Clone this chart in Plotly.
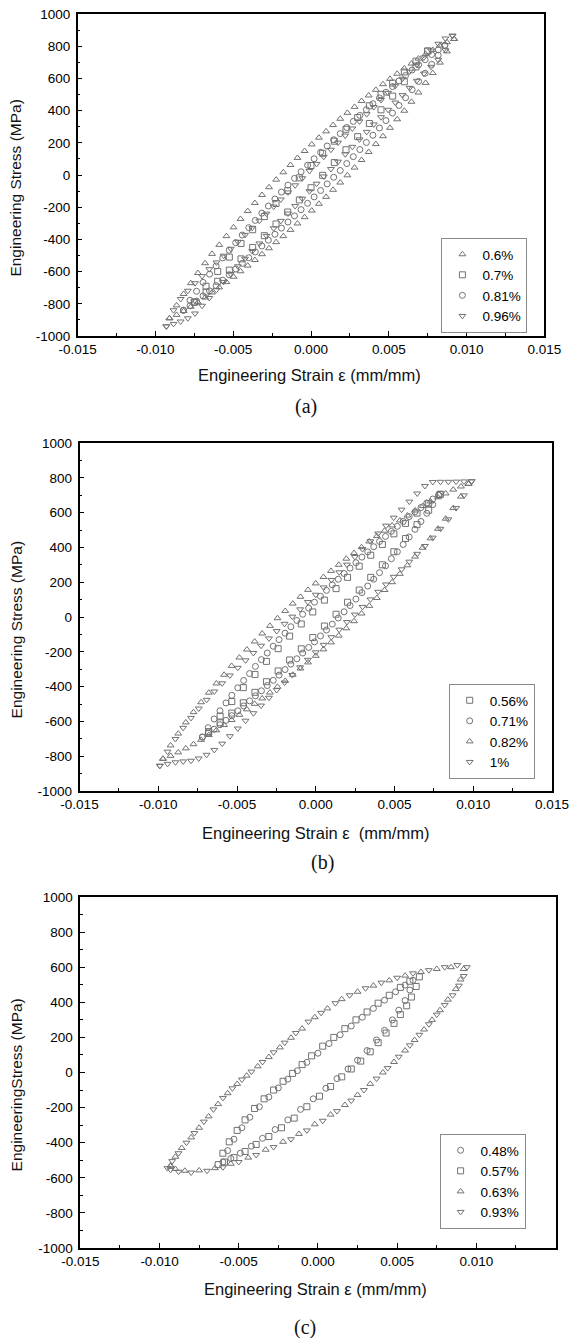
import plotly.graph_objects as go

# ---------------- data ----------------
x_tick_vals = [-0.015, -0.010, -0.005, 0.0, 0.005, 0.010, 0.015]
x_tick_text = ["-0.015", "-0.010", "-0.005", "0.000", "0.005", "0.010", "0.015"]
x_minor_vals = [-0.0125, -0.0075, -0.0025, 0.0025, 0.0075, 0.0125]
y_tick_vals = [-1000, -800, -600, -400, -200, 0, 200, 400, 600, 800, 1000]
y_tick_text = ["-1000", "-800", "-600", "-400", "-200", "0", "200", "400", "600", "800", "1000"]
y_minor_vals = [-900, -700, -500, -300, -100, 100, 300, 500, 700, 900]

# Panel (a)
a1_label = "0.6%"
a1_strain = [-0.0091, -0.00864, -0.00819, -0.00773, -0.00727, -0.00681, -0.00636, -0.0059, -0.00544, -0.00498,
             -0.00453, -0.00407, -0.00361, -0.00315, -0.0027, -0.00224, -0.00178, -0.00132, -0.00087, -0.00041,
             0.00005, 0.00051, 0.00097, 0.00142, 0.00188, 0.00234, 0.0028, 0.00325, 0.00371, 0.00417,
             0.00463, 0.00508, 0.00554, 0.006, 0.00646, 0.00691, 0.00737, 0.00783, 0.00829, 0.00874, 0.0092]
a1_upper = [-890, -810, -739, -672, -609, -548, -490, -434, -380, -325, -273, -224, -174, -124, -76, -29, 17,
            62, 106, 149, 190, 232, 271, 310, 349, 386, 423, 460, 494, 529, 564, 597, 629, 662, 692, 723, 751,
            777, 804, 825, 845]
a1_lower = [-890, -869, -845, -818, -791, -761, -730, -698, -665, -632, -598, -563, -528, -492, -455, -417,
            -380, -341, -301, -262, -221, -179, -136, -92, -47, -2, 46, 93, 143, 192, 241, 293, 346, 399, 455,
            512, 572, 633, 698, 768, 845]

a2_label = "0.7%"
a2_strain = [-0.0075, -0.00675, -0.006, -0.00525, -0.0045, -0.00375, -0.003, -0.00225, -0.0015, -0.00075, 0.0,
             0.00075, 0.0015, 0.00225, 0.003, 0.00375, 0.0045, 0.00525, 0.006, 0.00675, 0.0075]
a2_upper = [-790, -691, -599, -510, -425, -340, -258, -177, -97, -18, 59, 135, 210, 284, 357, 430, 501, 571,
            640, 707, 770]
a2_lower = [-790, -727, -660, -591, -521, -450, -377, -304, -230, -155, -79, -2, 77, 157, 238, 320, 405, 490,
            579, 671, 770]

a3_label = "0.81%"
a3_strain = [-0.0082, -0.00778, -0.00736, -0.00694, -0.00652, -0.0061, -0.00568, -0.00526, -0.00484, -0.00442,
             -0.004, -0.00358, -0.00316, -0.00274, -0.00232, -0.0019, -0.00148, -0.00106, -0.00064, -0.00022,
             0.0002, 0.00062, 0.00104, 0.00146, 0.00188, 0.0023, 0.00272, 0.00314, 0.00356, 0.00398, 0.0044,
             0.00482, 0.00524, 0.00566, 0.00608, 0.0065, 0.00692, 0.00734, 0.00776, 0.00818, 0.0086]
a3_upper = [-840, -778, -722, -667, -616, -565, -515, -467, -420, -373, -327, -282, -237, -193, -149, -106,
            -63, -21, 20, 61, 101, 141, 180, 219, 257, 295, 333, 370, 406, 443, 479, 514, 549, 584, 618, 652,
            685, 716, 748, 777, 805]
a3_lower = [-840, -812, -783, -751, -720, -687, -653, -619, -584, -549, -514, -478, -441, -405, -368, -330,
            -292, -254, -215, -176, -136, -96, -55, -14, 28, 71, 114, 158, 202, 247, 292, 338, 385, 432, 480,
            530, 581, 632, 687, 744, 805]

a4_label = "0.96%"
a4_strain = [-0.0093, -0.00884, -0.00838, -0.00792, -0.00746, -0.007, -0.00654, -0.00608, -0.00562, -0.00516,
             -0.0047, -0.00424, -0.00378, -0.00332, -0.00286, -0.0024, -0.00194, -0.00148, -0.00102, -0.00056,
             -0.0001, 0.00036, 0.00082, 0.00128, 0.00174, 0.0022, 0.00266, 0.00312, 0.00358, 0.00404, 0.0045,
             0.00496, 0.00542, 0.00588, 0.00634, 0.0068, 0.00726, 0.00772, 0.00818, 0.00864, 0.0091]
a4_upper = [-940, -840, -770, -719, -672, -628, -585, -543, -501, -458, -415, -372, -328, -284, -240, -196,
            -152, -108, -64, -20, 25, 69, 113, 157, 201, 245, 289, 333, 378, 422, 466, 510, 554, 598, 642, 686,
            730, 773, 815, 848, 865]
a4_lower = [-940, -925, -910, -890, -860, -812, -764, -714, -664, -615, -567, -520, -473, -425, -378, -331,
            -285, -239, -193, -147, -101, -54, -9, 37, 83, 129, 175, 221, 268, 314, 359, 405, 450, 496, 541,
            585, 630, 672, 715, 775, 865]

# Panel (b)
b1_label = "0.56%"
b1_strain = [-0.0068, -0.00607, -0.00533, -0.0046, -0.00386, -0.00313, -0.00239, -0.00166, -0.00092, -0.00019,
             0.00055, 0.00129, 0.00202, 0.00276, 0.00349, 0.00423, 0.00496, 0.0057, 0.00643, 0.00717, 0.0079]
b1_upper = [-660, -569, -486, -406, -330, -255, -182, -110, -40, 29, 97, 163, 228, 292, 355, 417, 478, 538,
            597, 653, 705]
b1_lower = [-660, -608, -552, -493, -433, -372, -310, -247, -183, -118, -52, 16, 85, 155, 228, 300, 375, 451,
            531, 614, 705]

b2_label = "0.71%"
b2_strain = [-0.0072, -0.00683, -0.00645, -0.00608, -0.0057, -0.00533, -0.00495, -0.00458, -0.0042, -0.00383,
             -0.00345, -0.00308, -0.0027, -0.00233, -0.00195, -0.00158, -0.0012, -0.00083, -0.00045, -0.00008,
             0.0003, 0.00068, 0.00105, 0.00143, 0.0018, 0.00218, 0.00255, 0.00293, 0.0033, 0.00368, 0.00405,
             0.00443, 0.0048, 0.00518, 0.00555, 0.00593, 0.0063, 0.00668, 0.00705, 0.00743, 0.0078]
b2_upper = [-690, -636, -586, -539, -494, -450, -407, -365, -325, -284, -245, -207, -168, -130, -93, -56, -20,
            16, 51, 85, 119, 153, 185, 217, 250, 281, 312, 344, 374, 404, 434, 463, 492, 521, 549, 577, 604,
            629, 655, 678, 700]
b2_lower = [-690, -668, -645, -619, -594, -567, -539, -511, -482, -453, -424, -394, -364, -334, -302, -271,
            -240, -207, -175, -143, -109, -75, -41, -6, 30, 66, 103, 140, 178, 217, 255, 294, 335, 375, 417,
            460, 504, 549, 596, 646, 700]

b3_label = "0.82%"
b3_strain = [-0.0097, -0.00922, -0.00873, -0.00825, -0.00776, -0.00728, -0.00679, -0.00631, -0.00582, -0.00534,
             -0.00485, -0.00437, -0.00388, -0.0034, -0.00291, -0.00243, -0.00194, -0.00146, -0.00097, -0.00049,
             0.0, 0.00049, 0.00097, 0.00146, 0.00194, 0.00243, 0.00291, 0.0034, 0.00388, 0.00437, 0.00485,
             0.00534, 0.00582, 0.00631, 0.00679, 0.00728, 0.00776, 0.00825, 0.00873, 0.00922, 0.0097]
b3_upper = [-815, -738, -670, -606, -547, -490, -435, -382, -332, -281, -233, -187, -141, -95, -51, -7, 35,
            77, 116, 156, 193, 230, 265, 300, 335, 368, 401, 434, 465, 496, 526, 555, 583, 612, 638, 664, 688,
            710, 732, 750, 765]
b3_lower = [-815, -798, -778, -755, -731, -706, -678, -651, -621, -592, -562, -531, -499, -468, -434, -401,
            -367, -332, -296, -261, -223, -186, -146, -107, -65, -24, 20, 64, 109, 155, 200, 248, 297, 347, 398,
            452, 507, 565, 626, 692, 765]

b4_label = "1%"
b4_strain = [-0.0099, -0.00941, -0.00891, -0.00842, -0.00792, -0.00743, -0.00693, -0.00644, -0.00594, -0.00545,
             -0.00495, -0.00446, -0.00396, -0.00347, -0.00297, -0.00248, -0.00198, -0.00149, -0.00099, -0.0005,
             0.0, 0.0005, 0.00099, 0.00149, 0.00198, 0.00248, 0.00297, 0.00347, 0.00396, 0.00446, 0.00495,
             0.00545, 0.00594, 0.00644, 0.00693, 0.00743, 0.00792, 0.00842, 0.00891, 0.00941, 0.0099]
b4_upper = [-855, -774, -701, -637, -580, -526, -476, -428, -381, -336, -292, -249, -207, -165, -123, -81, -39,
            2, 44, 86, 128, 170, 213, 257, 301, 345, 390, 435, 480, 525, 571, 617, 663, 710, 753, 776, 777, 777,
            778, 779, 780]
b4_lower = [-855, -844, -835, -830, -826, -813, -792, -764, -728, -685, -641, -596, -553, -509, -464, -420,
            -377, -333, -289, -246, -203, -160, -116, -73, -29, 14, 58, 101, 145, 187, 231, 274, 318, 363, 408,
            456, 507, 561, 626, 699, 780]

# Panel (c)
c1_label = "0.48%"
c1_up_strain = [-0.006, -0.0057, -0.0053, -0.0048, -0.0043, -0.0037, -0.0031, -0.0025, -0.0019, -0.0013,
                -0.0007, 0.0, 0.0007, 0.0014, 0.0021, 0.0028, 0.0035, 0.0042, 0.0049, 0.0055, 0.006]
c1_up_stress = [-510, -445, -380, -315, -255, -195, -140, -88, -38, 10, 58, 110, 165, 215, 265, 315, 365, 412,
                460, 498, 525]
c1_dn_strain = [0.0058, 0.0055, 0.0051, 0.0047, 0.0042, 0.0037, 0.0031, 0.0025, 0.0019, 0.0012, 0.0005,
                -0.0003, -0.0011, -0.0019, -0.0027, -0.0035, -0.0042, -0.0049, -0.0055]
c1_dn_stress = [470, 410, 355, 300, 240, 185, 125, 70, 20, -35, -90, -150, -210, -270, -325, -375, -420,
                -460, -490]

c2_label = "0.57%"
c2_up_strain = [-0.0063, -0.006, -0.0056, -0.0051, -0.0046, -0.004, -0.0034, -0.0028, -0.0022, -0.0016, -0.001,
                -0.0004, 0.0003, 0.001, 0.0017, 0.0024, 0.0031, 0.0038, 0.0045, 0.0052, 0.0058, 0.0064]
c2_up_stress = [-525, -460, -395, -330, -270, -205, -150, -100, -50, -5, 45, 95, 150, 200, 250, 300, 345, 395,
                440, 485, 520, 545]
c2_dn_strain = [0.0062, 0.0059, 0.0056, 0.0052, 0.0048, 0.0043, 0.0038, 0.0033, 0.0027, 0.0021, 0.0015, 0.0008,
                0.0001, -0.0007, -0.0015, -0.0023, -0.0031, -0.0039, -0.0046, -0.0053, -0.0059]
c2_dn_stress = [490, 430, 380, 330, 280, 225, 170, 118, 65, 20, -25, -80, -135, -195, -260, -315, -365, -410,
                -450, -485, -510]

c3_label = "0.63%"
c3_up_strain = [-0.0093, -0.009, -0.0086, -0.008, -0.0075, -0.0069, -0.0063, -0.0057, -0.0051, -0.0045,
                -0.0038, -0.0031, -0.0024, -0.0017, -0.001, -0.0002, 0.0006, 0.0015, 0.0025, 0.0035, 0.0045,
                0.0055, 0.0065, 0.0075, 0.0084]
c3_up_stress = [-530, -480, -430, -370, -315, -250, -180, -118, -65, -18, 35, 88, 143, 198, 250, 315, 365, 418,
                460, 495, 525, 552, 573, 590, 600]
c3_dn_strain = [0.0092, 0.009, 0.0087, 0.0082, 0.0077, 0.0072, 0.0067, 0.0061, 0.0055, 0.0048, 0.0041, 0.0033,
                0.0025, 0.0017, 0.0008, -0.0002, -0.0012, -0.0022, -0.0033, -0.0044, -0.0055, -0.0065, -0.0075,
                -0.0084, -0.009, -0.0093]
c3_dn_stress = [590, 530, 475, 415, 355, 300, 245, 185, 125, 60, 0, -65, -128, -185, -240, -295, -350, -395,
                -440, -485, -520, -545, -558, -560, -550, -535]

c4_label = "0.93%"
c4_up_strain = [-0.0095, -0.0092, -0.0088, -0.0083, -0.0078, -0.0072, -0.0066, -0.006, -0.0054, -0.0048,
                -0.0042, -0.0035, -0.0028, -0.0021, -0.0014, -0.0006, 0.0002, 0.0011, 0.002, 0.003, 0.004,
                0.005, 0.006, 0.007, 0.008, 0.0088]
c4_up_stress = [-545, -505, -460, -400, -345, -280, -210, -145, -90, -40, 5, 60, 115, 170, 225, 290, 340, 395,
                440, 480, 512, 540, 565, 583, 600, 612]
c4_dn_strain = [0.0094, 0.0092, 0.0089, 0.0085, 0.008, 0.0075, 0.007, 0.0064, 0.0058, 0.0051, 0.0044, 0.0037,
                0.0029, 0.0021, 0.0012, 0.0003, -0.0007, -0.0017, -0.0028, -0.0039, -0.005, -0.006, -0.007,
                -0.008, -0.0088, -0.0093]
c4_dn_stress = [600, 550, 495, 440, 385, 330, 275, 215, 155, 90, 25, -35, -100, -160, -220, -275, -330, -380,
                -425, -470, -510, -540, -560, -570, -565, -555]

# ---------------- figure ----------------
W, H = 572, 1338
FONT = "Liberation Sans, Arial, Helvetica, sans-serif"
MARK = "#727272"

fig = go.Figure()

def add_loop(xs, ys, symbol, name, panel):
    fig.add_trace(go.Scatter(
        x=xs, y=ys, mode="markers", name=name,
        xaxis="x" if panel == 1 else f"x{panel}",
        yaxis="y" if panel == 1 else f"y{panel}",
        legend="legend" if panel == 1 else f"legend{panel}",
        marker=dict(symbol=symbol, size=6, color=MARK, line=dict(width=1, color=MARK)),
    ))

def shared(strain, upper, lower):
    return strain + strain[::-1], upper + lower[::-1]

# panel (a)
x, y = shared(a1_strain, a1_upper, a1_lower); add_loop(x, y, "triangle-up-open", a1_label, 1)
x, y = shared(a2_strain, a2_upper, a2_lower); add_loop(x, y, "square-open", a2_label, 1)
x, y = shared(a3_strain, a3_upper, a3_lower); add_loop(x, y, "circle-open", a3_label, 1)
x, y = shared(a4_strain, a4_upper, a4_lower); add_loop(x, y, "triangle-down-open", a4_label, 1)
# panel (b)
x, y = shared(b1_strain, b1_upper, b1_lower); add_loop(x, y, "square-open", b1_label, 2)
x, y = shared(b2_strain, b2_upper, b2_lower); add_loop(x, y, "circle-open", b2_label, 2)
x, y = shared(b3_strain, b3_upper, b3_lower); add_loop(x, y, "triangle-up-open", b3_label, 2)
x, y = shared(b4_strain, b4_upper, b4_lower); add_loop(x, y, "triangle-down-open", b4_label, 2)
# panel (c)
add_loop(c1_up_strain + c1_dn_strain, c1_up_stress + c1_dn_stress, "circle-open", c1_label, 3)
add_loop(c2_up_strain + c2_dn_strain, c2_up_stress + c2_dn_stress, "square-open", c2_label, 3)
add_loop(c3_up_strain + c3_dn_strain, c3_up_stress + c3_dn_stress, "triangle-up-open", c3_label, 3)
add_loop(c4_up_strain + c4_dn_strain, c4_up_stress + c4_dn_stress, "triangle-down-open", c4_label, 3)

# plot-area pixel boxes (left, right, top, bottom)
boxes = [(77.7, 544.3, 14, 336), (79.5, 552, 443, 791), (80.3, 555.6, 897, 1248)]

def xaxis_cfg(box, anchor):
    l, r, t, b = box
    return dict(domain=[l / W, r / W], range=[-0.015, 0.015], anchor=anchor,
                tickmode="array", tickvals=x_tick_vals, ticktext=x_tick_text,
                ticks="inside", ticklen=5, tickwidth=1.3, tickcolor="black",
                minor=dict(tickmode="array", tickvals=x_minor_vals, ticks="inside", ticklen=3,
                           tickwidth=1, tickcolor="black", showgrid=False),
                showline=True, linecolor="black", linewidth=1.5, mirror=True,
                showgrid=False, zeroline=False, automargin=False,
                tickfont=dict(family=FONT, size=13.5, color="#000"))

def yaxis_cfg(box, anchor):
    l, r, t, b = box
    return dict(domain=[1 - b / H, 1 - t / H], range=[-1000, 1000], anchor=anchor,
                tickmode="array", tickvals=y_tick_vals, ticktext=y_tick_text,
                ticks="inside", ticklen=5, tickwidth=1.3, tickcolor="black",
                minor=dict(tickmode="array", tickvals=y_minor_vals, ticks="inside", ticklen=3,
                           tickwidth=1, tickcolor="black", showgrid=False),
                showline=True, linecolor="black", linewidth=1.5, mirror=True,
                showgrid=False, zeroline=False, automargin=False, ticklabelstandoff=3,
                tickfont=dict(family=FONT, size=13.5, color="#000"))

legend_pos = [(441.4, 238), (448.7, 684), (439.6, 1134)]

def legend_cfg(pos):
    px, py = pos
    return dict(x=px / W, y=1 - py / H, xanchor="left", yanchor="top",
                bordercolor="#8a8a8a", borderwidth=1, bgcolor="white",
                font=dict(family=FONT, size=13.5, color="#000"), tracegroupgap=0,
                itemwidth=30)

annotations = []
x_titles = ["Engineering Strain \u03b5 (mm/mm)", "Engineering Strain \u03b5  (mm/mm)",
            "Engineering Strain \u03b5 (mm/mm)"]
y_titles = ["Engineering Stress (MPa)", "Engineering Stress (MPa)", "EngineeringStress (MPa)"]
captions = ["(a)", "(b)", "(c)"]
x_title_pos = [(309, 375), (316, 833), (316, 1289)]
y_title_pos = [(14.6, 188), (16.4, 630), (16.4, 1085)]
caption_pos = [(306, 407), (322, 862), (305, 1327)]
for i in range(3):
    annotations.append(dict(text=x_titles[i], x=x_title_pos[i][0] / W, y=1 - x_title_pos[i][1] / H,
                            xref="paper", yref="paper", xanchor="center", yanchor="middle", showarrow=False,
                            font=dict(family=FONT, size=16.5, color="#111")))
    annotations.append(dict(text=y_titles[i], x=y_title_pos[i][0] / W, y=1 - y_title_pos[i][1] / H,
                            xref="paper", yref="paper", xanchor="center", yanchor="middle", showarrow=False,
                            textangle=-90, font=dict(family=FONT, size=15.5, color="#111")))
    annotations.append(dict(text=captions[i], x=caption_pos[i][0] / W, y=1 - caption_pos[i][1] / H,
                            xref="paper", yref="paper", xanchor="center", yanchor="middle", showarrow=False,
                            font=dict(family="Liberation Serif, Times New Roman, serif", size=20,
                                      color="#111")))

fig.update_layout(
    template="none",
    width=W, height=H,
    margin=dict(l=0, r=0, t=0, b=0),
    paper_bgcolor="white", plot_bgcolor="white",
    showlegend=True,
    xaxis=xaxis_cfg(boxes[0], "y"), yaxis=yaxis_cfg(boxes[0], "x"),
    xaxis2=xaxis_cfg(boxes[1], "y2"), yaxis2=yaxis_cfg(boxes[1], "x2"),
    xaxis3=xaxis_cfg(boxes[2], "y3"), yaxis3=yaxis_cfg(boxes[2], "x3"),
    legend=legend_cfg(legend_pos[0]),
    legend2=legend_cfg(legend_pos[1]),
    legend3=legend_cfg(legend_pos[2]),
    annotations=annotations,
)

fig.write_html("out.html")
